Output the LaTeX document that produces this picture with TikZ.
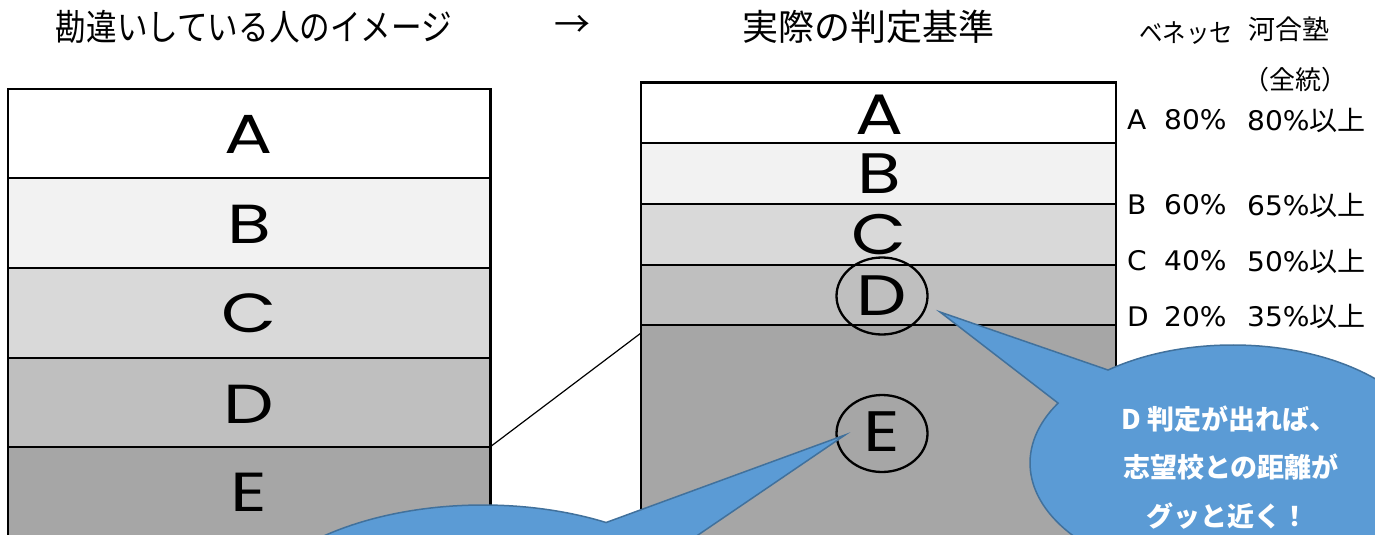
\documentclass[tikz,border=0pt]{standalone}
\usepackage{fontspec}
\setmainfont{DejaVu Sans}
\newfontfamily\cjk{Noto Sans CJK JP}
\newfontfamily\geo{Poppins}
\usetikzlibrary{shapes.geometric}
\definecolor{bandB}{HTML}{F2F2F2}
\definecolor{bandC}{HTML}{D9D9D9}
\definecolor{bandD}{HTML}{BFBFBF}
\definecolor{bandE}{HTML}{A6A6A6}
\definecolor{bubble}{HTML}{5B9BD5}
\definecolor{bubbleline}{HTML}{41719C}
\begin{document}
\begin{tikzpicture}[x=1pt,y=-1pt,
  band/.style={draw=black,line width=1.5pt},
  lletter/.style={font=\geo\fontsize{55}{55}\selectfont,inner sep=0pt,xscale=1.3},
  rletter/.style={font=\geo\fontsize{57}{57}\selectfont,inner sep=0pt,xscale=1.25},
  ring/.style={draw=black,ellipse,line width=2.3pt,minimum width=91pt,minimum height=77pt,inner sep=0pt},
  callout/.style={fill=bubble,draw=bubbleline,line width=1.5pt,line join=miter},
  ctext/.style={font=\cjk\bfseries\fontsize{27}{27}\selectfont,text=white,inner sep=0pt},
  title/.style={font=\cjk\fontsize{36}{36}\selectfont,inner sep=0pt},
  tabtxt/.style={font=\fontsize{27}{27}\selectfont,inner sep=0pt,anchor=west,xscale=1.04},
  head/.style={font=\cjk\fontsize{26}{26}\selectfont,inner sep=0pt}]
\useasboundingbox (0,0) rectangle (1375,535);
\clip (0,0) rectangle (1375,535);

% left column
\path[band,fill=white] (8,89) rectangle (490,178);
\path[band,fill=bandB] (8,178) rectangle (490,268);
\path[band,fill=bandC] (8,268) rectangle (490,358);
\path[band,fill=bandD] (8,358) rectangle (490,447);
\path[band,fill=bandE] (8,447) rectangle (490,570);
\draw[line width=3pt] (490,88) -- (490,570);
\node[lletter] (lA) at (249,134) {A};
\node[lletter] (lB) at (249,224) {B};
\node[lletter] (lC) at (249,313) {C};
\node[lletter] (lD) at (249,404) {D};
\node[lletter] (lE) at (249,492.5) {E};

% right column
\path[band,fill=white] (641,83) rectangle (1116,143);
\path[band,fill=bandB] (641,143) rectangle (1116,204);
\path[band,fill=bandC] (641,204) rectangle (1116,265);
\path[band,fill=bandD] (641,265) rectangle (1116,325);
\path[band,fill=bandE] (641,325) rectangle (1116,570);
\draw[line width=2pt] (641,82) rectangle (1116,570);
\node[rletter] (rA) at (879,115) {A};
\node[rletter] (rB) at (879,173.5) {B};
\node[rletter] (rC) at (879,235) {C};
\node[rletter] (rD) at (882,296) {D};
\node[rletter] (rE) at (882,432) {E};
\node[ring] (ringD) at (882,296) {};
\node[ring] (ringE) at (882,433.5) {};

% connector between the two columns
\coordinate (lcorner) at (490,447);
\coordinate (rcorner) at (641,333);
\draw[line width=1.2pt] (lcorner) -- (rcorner);

% callouts
\coordinate (tipD) at (940,312);
\coordinate (tipE) at (845,435);
\path[callout] (1233,463) ++(232:203 and 118)
  arc[start angle=232,end angle=570.5,x radius=203,y radius=118] -- (tipD) -- cycle;
\path[callout] (483,640) ++(319.4:250 and 135)
  arc[start angle=319.4,end angle=659.5,x radius=250,y radius=135] -- (tipE) -- cycle;
\node[ctext] (c1) at (1229,419) {D 判定が出れば、};
\node[ctext] (c2) at (1231,466.5) {志望校との距離が};
\node[ctext] (c3) at (1227,516) {グッと近く！};

% titles
\node[title,xscale=0.85] (t1) at (254,27) {勘違いしている人のイメージ};
\node[title] (tarrow) at (572,26) {→};
\node[title] (t2) at (868,26.5) {実際の判定基準};

% table
\node[head,xscale=0.9] (hBen) at (1186,33) {ベネッセ};
\node[head,font=\cjk\fontsize{27}{27}\selectfont] (hKaw) at (1289,29) {河合塾};
\node[head] (hZen) at (1295,80) {（全統）};

\node[tabtxt] (gA) at (1127,120) {A};
\node[tabtxt] (bA) at (1164,120) {80\%};
\node[tabtxt] (kA) at (1247,120) {80\%{\cjk 以上}};
\node[tabtxt] (gB) at (1127,205) {B};
\node[tabtxt] (bB) at (1164,205) {60\%};
\node[tabtxt] (kB) at (1247,205) {65\%{\cjk 以上}};
\node[tabtxt] (gC) at (1127,261) {C};
\node[tabtxt] (bC) at (1164,261) {40\%};
\node[tabtxt] (kC) at (1247,261) {50\%{\cjk 以上}};
\node[tabtxt] (gD) at (1127,316.5) {D};
\node[tabtxt] (bD) at (1164,316.5) {20\%};
\node[tabtxt] (kD) at (1247,316.5) {35\%{\cjk 以上}};
\end{tikzpicture}
\end{document}
